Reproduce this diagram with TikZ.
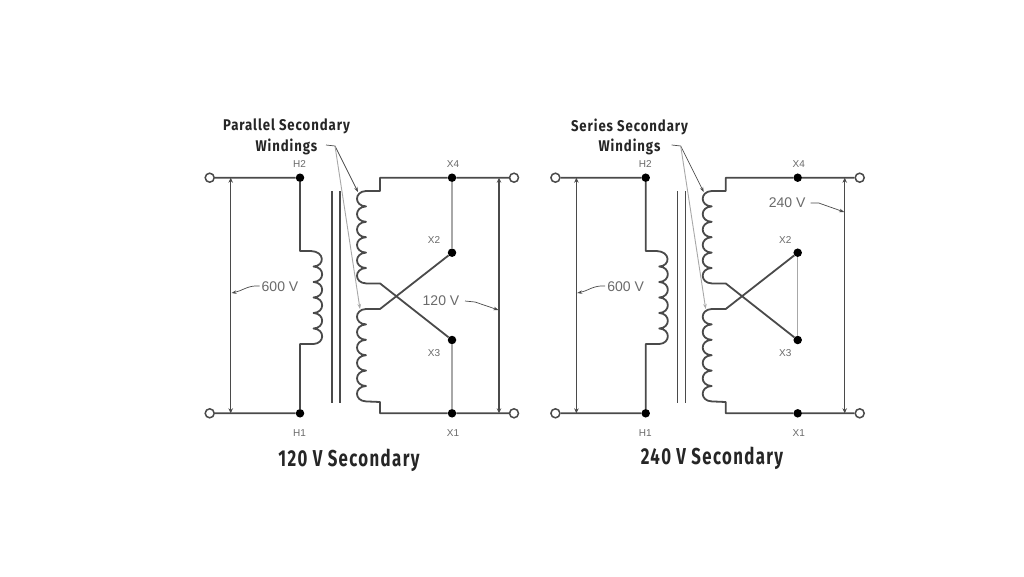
\documentclass[tikz,border=0pt]{standalone}
\usepackage{fontspec}
\setmainfont{Liberation Sans}
\newfontfamily\headfont[FakeStretch=0.85,LetterSpace=6]{Fira Sans}
\newfontfamily\titlefont[FakeStretch=0.73,LetterSpace=6]{Fira Sans}
\usetikzlibrary{arrows.meta}
\definecolor{wire}{HTML}{4A4A4A}
\definecolor{thinw}{HTML}{A8A8A8}
\definecolor{lab}{HTML}{6A6A6A}
\tikzset{
  wirel/.style={draw=wire,line width=1.8pt,line join=round},
  thinl/.style={draw=thinw,line width=1.1pt},
  core/.style={draw=wire,line width=1.4pt},
  volt/.style={draw=wire,line width=1.5pt,{Stealth[length=5pt,width=4.5pt]}-{Stealth[length=5pt,width=4.5pt]}},
  leader/.style={draw=wire,line width=.7pt,-{Stealth[length=5pt,width=3.5pt]}},
  leaderthin/.style={draw=thinw,line width=.9pt,-{Stealth[length=5pt,width=3.5pt]}},
  dotn/.style={circle,fill=black,draw=none,minimum size=8.5pt,inner sep=0pt},
  term/.style={circle,fill=white,draw=wire,line width=1.5pt,minimum size=9pt,inner sep=0pt},
  tinyl/.style={text=lab,font=\fontsize{10}{12}\selectfont,inner sep=0pt},
  voltl/.style={text=lab,font=\fontsize{14}{16}\selectfont,inner sep=0pt},
  headl/.style={text=black!85,font=\headfont\bfseries\fontsize{15.5}{18}\selectfont,inner sep=0pt},
  titlel/.style={text=black!85,font=\titlefont\bfseries\fontsize{23}{26}\selectfont,inner sep=0pt}
}
% primary coil: six loops to the right
\newcommand{\primarycoil}{%
  \foreach \k in {0,...,5}{
    .. controls ({325},{251+15.5*\k+.5}) and ({325},{251+15.5*\k+15}) .. ({313.5},{251+15.5*(\k+1)})
  }}
% secondary coil: six loops to the left, starting at y = #1
\newcommand{\secondarycoil}[1]{%
  \foreach \k in {0,...,5}{
    .. controls ({354},{#1+15.4*\k+.5}) and ({354},{#1+15.4*\k+15}) .. ({366},{#1+15.4*(\k+1)})
  }}
\newcommand{\panelbase}{%
  \node[term] (tl) at (209.7,177.7) {};
  \node[term] (bl) at (209.7,413.3) {};
  \node[term] (tr) at (514,177.7) {};
  \node[term] (br) at (514,413.3) {};
  \node[dotn] (H2) at (300,177.7) {};
  \node[dotn] (H1) at (300,413.3) {};
  \node[dotn] (X4) at (452,177.7) {};
  \node[dotn] (X1) at (452,413.3) {};
  \node[dotn] (X2) at (452,252.7) {};
  \node[dotn] (X3) at (452,340) {};
  \coordinate (pa) at (300,251);
  \coordinate (pb) at (300,344);
  \coordinate (ct) at (380,191);
  \coordinate (cb) at (380,402);
  \coordinate (ua) at (380,283.4);
  \coordinate (lb) at (380,309);
  \coordinate (vlt) at (230.7,177.7);
  \coordinate (vlb) at (230.7,413.3);
  \coordinate (vrt) at (499,177.7);
  \coordinate (vrb) at (499,413.3);
  \draw[wirel] (tl) -- (H2) -- (pa) -- (311,251) \primarycoil -- (310,344) -- (pb) -- (H1) -- (bl);
  \draw[wirel] (tr) -- (X4) -- (380,177.7) -- (ct) -- (366,191) \secondarycoil{191} -- (ua) -- (X3);
  \draw[wirel] (X2) -- (lb) -- (366,309) \secondarycoil{309} -- (cb) -- (380,413.3) -- (X1) -- (br);
  \draw[core] (332,191) -- (332,403);
  \draw[core] (340,191) -- (340,403);
  \draw[volt] (vlt) -- (vlb);
  \draw[volt] (vrt) -- (vrb);
  \node[tinyl] (lH2) at (299.5,164) {H2};
  \node[tinyl] (lH1) at (299.5,433.5) {H1};
  \node[tinyl] (lX4) at (453,164) {X4};
  \node[tinyl] (lX1) at (453,433.5) {X1};
  \node[voltl] (l600) at (280,286.5) {600 V};
  \draw[leader] (l600.west) ++(-2,-.5) .. controls (248,285) and (242,291) .. (231.5,293);
  \coordinate (lk) at (335,146);
  \draw[leader] (326,145) -- (lk) -- (358,192);
  \draw[leaderthin] (lk) -- (360,309);
}
\begin{document}
\begin{tikzpicture}[x=1pt,y=-1pt]
\useasboundingbox (0,0) rectangle (1024,576);
\fill[white] (0,0) rectangle (1024,576);
\begin{scope}[name prefix=L-]
  \panelbase
  \draw[thinl] (X4) -- (X2);
  \draw[thinl] (X3) -- (X1);
  \node[tinyl] (lX2) at (434,240.5) {X2};
  \node[tinyl] (lX3) at (434,353.5) {X3};
  \node[voltl] (l120) at (441,300.5) {120 V};
  \draw[leader] (465,301) -- (475,302) -- (498.5,310);
  \node[headl] (h1) at (286.5,126.5) {Parallel Secondary};
  \node[headl] (h2) at (286.5,147) {Windings};
  \node[titlel] (t) at (349,460) {120 V Secondary};
\end{scope}
\begin{scope}[name prefix=R-,xshift=345.7pt]
  \panelbase
  \draw[thinl] (X2) -- (X3);
  \node[tinyl] (lX2) at (439.5,240.5) {X2};
  \node[tinyl] (lX3) at (439.5,353.5) {X3};
  \node[voltl] (l240) at (441.5,202.5) {240 V};
  \draw[leader] (465,203) -- (473,203) -- (498.5,212);
  \node[headl] (h1) at (283.8,126.5) {Series Secondary};
  \node[headl] (h2) at (283.8,147) {Windings};
  \node[titlel] (t) at (366.3,458) {240 V Secondary};
\end{scope}
\end{tikzpicture}
\end{document}
